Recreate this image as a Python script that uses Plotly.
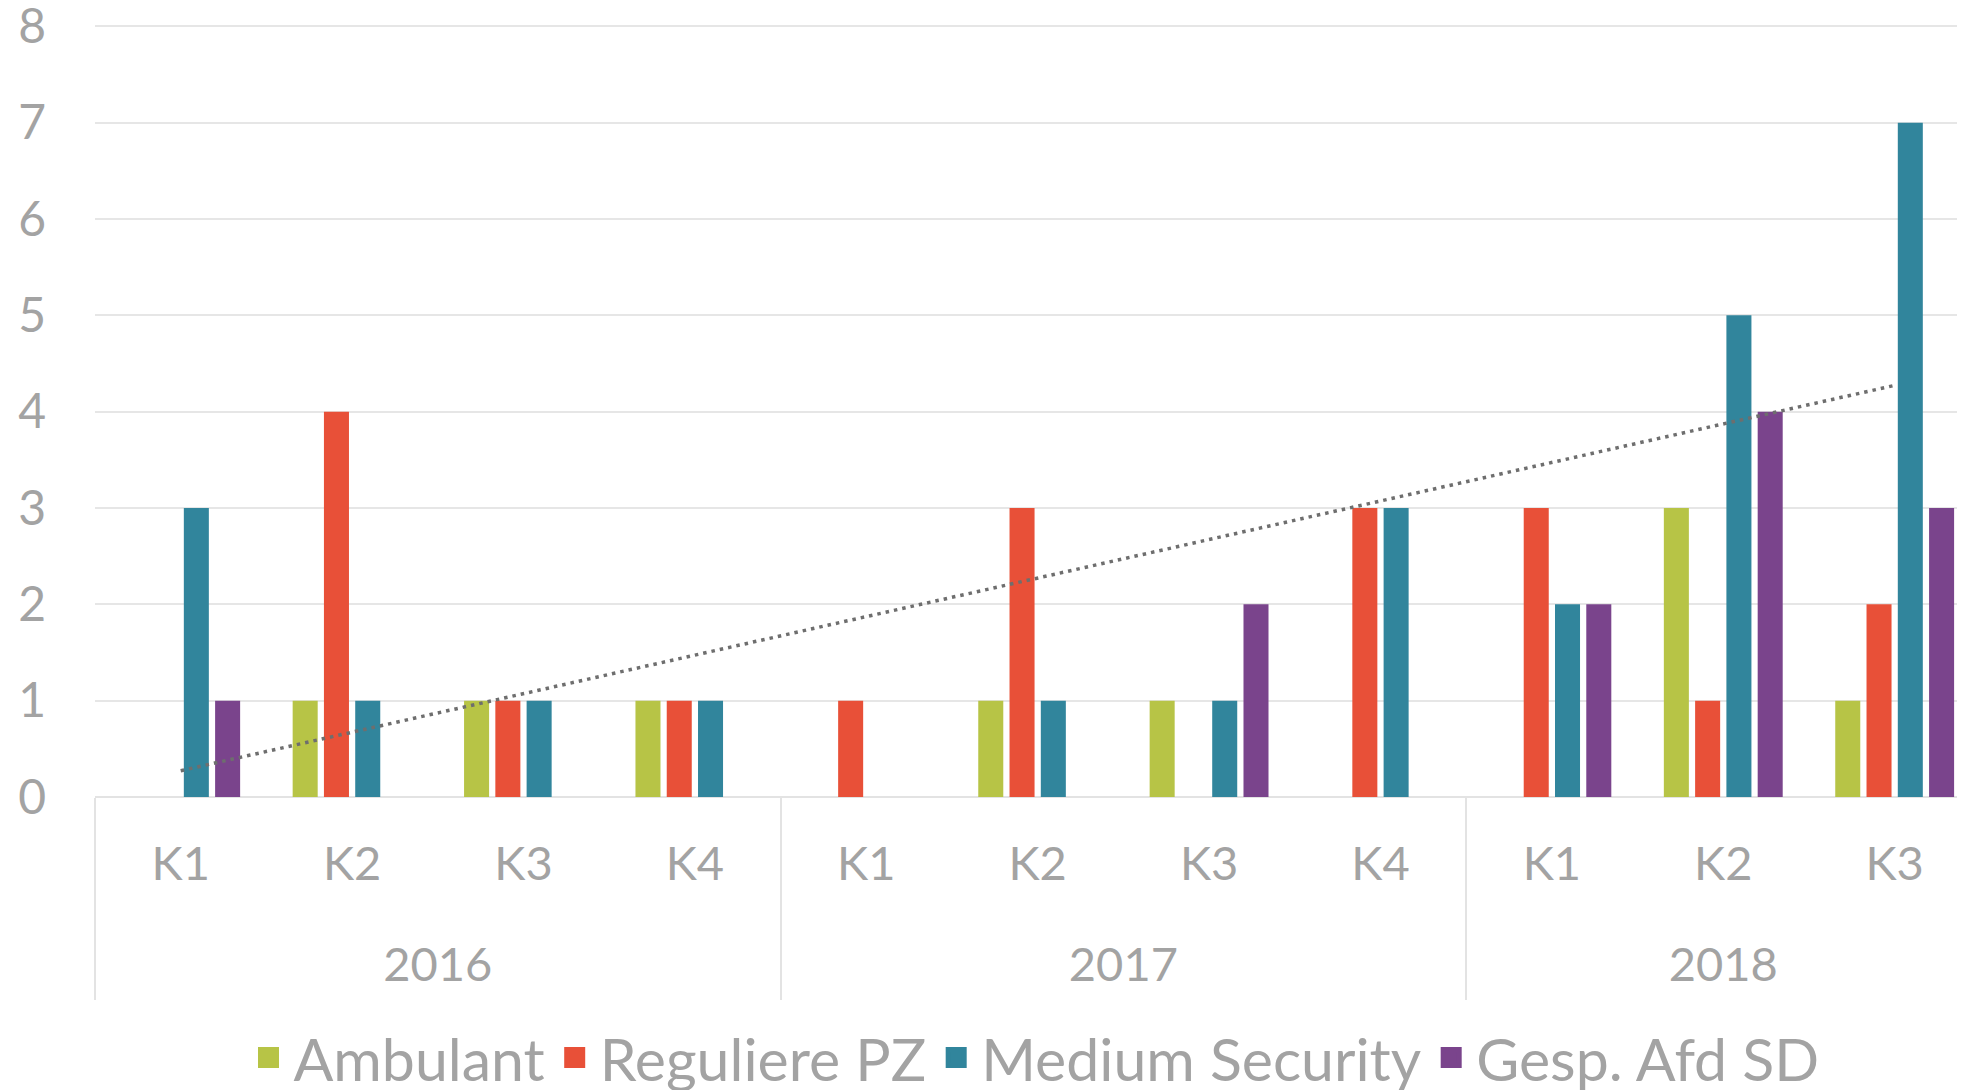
import numpy as np
import plotly.graph_objects as go

years = ["2016", "2017", "2018"]
quarters = ["K1", "K2", "K3", "K4", "K1", "K2", "K3", "K4", "K1", "K2", "K3"]
year_of_cat = ["2016"] * 4 + ["2017"] * 4 + ["2018"] * 3

ambulant = [0, 1, 1, 1, 0, 1, 1, 0, 0, 3, 1]
reguliere = [0, 4, 1, 1, 1, 3, 0, 3, 3, 1, 2]
medium = [3, 1, 1, 1, 0, 1, 1, 3, 2, 5, 7]
gesp = [1, 0, 0, 0, 0, 0, 2, 0, 2, 4, 3]

series = [
    ("Ambulant", ambulant, "#B7C446"),
    ("Reguliere PZ", reguliere, "#E85038"),
    ("Medium Security", medium, "#31859C"),
    ("Gesp. Afd SD", gesp, "#7A448C"),
]

FONT = "Lato"
GREY = "#A3A3A3"

idx = list(range(len(quarters)))

fig = go.Figure()
for name, vals, col in series:
    fig.add_trace(go.Bar(x=idx, y=vals, name=name, legendgroup=name, showlegend=False,
                         marker=dict(color=col, line=dict(width=0))))

# linear trendline for Medium Security
coef = np.polyfit(idx, medium, 1)
trend = np.polyval(coef, idx)
fig.add_trace(go.Scatter(x=idx, y=trend, mode="lines", showlegend=False,
                         line=dict(color="#6E6E6E", width=3.5, dash="3.5px,5px"),
                         hoverinfo="skip"))

# legend entries (larger square symbols), linked to the bar traces
for name, vals, col in series:
    fig.add_trace(go.Scatter(x=[None], y=[None], mode="markers", name=name, legendgroup=name,
                             marker=dict(symbol="square", size=16, color=col,
                                         line=dict(color=col, width=5)),
                             hoverinfo="skip"))

# group centers and boundaries from the category list
centers = []
bounds = []
for yv in years:
    pos = [i for i, y in enumerate(year_of_cat) if y == yv]
    centers.append((pos[0] + pos[-1]) / 2)
    bounds.append(pos[0] - 0.5)

xr = [-0.5, 10.457]

fig.add_trace(go.Scatter(x=[None], y=[None], xaxis="x2", showlegend=False, hoverinfo="skip"))
fig.add_trace(go.Scatter(x=[None], y=[None], xaxis="x3", showlegend=False, hoverinfo="skip"))

fig.update_layout(
    template="none",
    width=1965, height=1090,
    margin=dict(l=87, r=0, t=0, b=301, autoexpand=False),
    paper_bgcolor="white", plot_bgcolor="white",
    barmode="group", bargap=0.27, bargroupgap=0.2,
    font=dict(family=FONT, color=GREY),
    xaxis=dict(range=xr, tickmode="array", tickvals=idx, ticktext=quarters,
               showgrid=False, zeroline=False, showline=False, ticks="", automargin=False,
               tickfont=dict(size=47, color=GREY), ticklabelstandoff=35),
    xaxis2=dict(overlaying="x", anchor="y", side="bottom", range=xr, automargin=False,
                tickmode="array", tickvals=centers, ticktext=years,
                showgrid=False, zeroline=False, showline=False, ticks="",
                tickfont=dict(size=47, color=GREY), ticklabelstandoff=136),
    xaxis3=dict(overlaying="x", anchor="y", side="bottom", range=xr, automargin=False,
                tickmode="array", tickvals=bounds, showticklabels=False,
                showgrid=False, zeroline=False, showline=False,
                ticks="outside", ticklen=202, tickwidth=1.5, tickcolor="#E3E3E3"),
    yaxis=dict(range=[0, 8.19], tickmode="array", tickvals=list(range(9)),
               showgrid=True, gridcolor="#E6E6E6", gridwidth=2,
               zeroline=True, zerolinecolor="#E3E3E3", zerolinewidth=2, showline=False,
               ticks="", automargin=False, ticklabeloverflow="allow",
               tickfont=dict(size=48, color=GREY), ticklabelstandoff=48),
    legend=dict(orientation="h", xanchor="center", x=0.5, yref="container",
                y=0.037, yanchor="middle", font=dict(size=59, color=GREY),
                itemwidth=40, traceorder="grouped", tracegroupgap=26,
                bgcolor="rgba(0,0,0,0)"),
)

fig.write_html("out.html")
